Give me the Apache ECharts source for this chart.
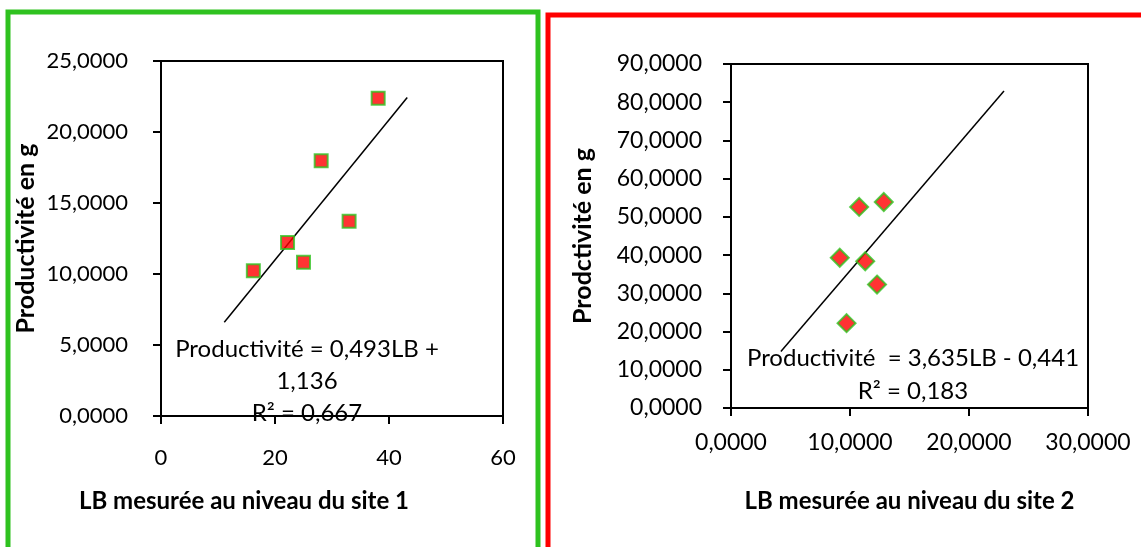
<!DOCTYPE html>
<html>
<head>
<meta charset="utf-8">
<script src="https://cdn.jsdelivr.net/npm/echarts@6/dist/echarts.min.js"></script>
<style>
html,body{margin:0;padding:0;background:#fff;}
#c{width:1141px;height:547px;}
</style>
</head>
<body>
<div id="c"></div>
<script>
// ---- data ----
const site1LB   = [16.2, 22.2, 25.0, 28.1, 33.0, 38.1];
const site1Prod = [10.23, 12.22, 10.82, 17.97, 13.71, 22.38];
const site2LB   = [9.14, 9.71, 10.77, 11.28, 12.27, 12.84];
const site2Prod = [39.3, 22.2, 52.6, 38.4, 32.3, 53.9];
// regression lines (as printed on the chart) and their drawn x-range
const trend1 = {slope: 0.493, intercept: 1.136, xRange: [11.1, 43.2]};
const trend2 = {slope: 3.635, intercept: -0.441, xRange: [4.19, 22.94]};
const eq1Lines = ['Productivité = 0,493LB +', '1,136', 'R² = 0,667'];
const eq2Lines = ['Productivité  = 3,635LB - 0,441', 'R² = 0,183'];
const x1Ticks = {min: 0, max: 60, interval: 20};
const y1Ticks = {min: 0, max: 25, interval: 5};
const x2Ticks = {min: 0, max: 30, interval: 10};
const y2Ticks = {min: 0, max: 90, interval: 10};

const FONT = 'Lato, "Liberation Sans", sans-serif';
const fmt4 = v => v.toFixed(4).replace('.', ',');
const zip = (a, b) => a.map((v, i) => [v, b[i]]);
const trendPts = t => t.xRange.map(x => [x, t.slope * x + t.intercept]);

const chart = echarts.init(document.getElementById('c'), null, {renderer: 'canvas'});

function xAxis(idx, t, labelFmt, name, fs, margin, gap, pad) {
  return {
    type: 'value', gridIndex: idx, min: t.min, max: t.max, interval: t.interval,
    splitLine: {show: false},
    axisLine: {show: true, onZero: false, lineStyle: {color: '#000', width: 2}},
    axisTick: {show: true, length: 8, lineStyle: {color: '#000', width: 2}},
    axisLabel: {color: '#000', fontFamily: FONT, fontSize: fs, margin: margin, formatter: labelFmt},
    name: name, nameLocation: 'middle', nameGap: gap,
    nameTextStyle: {color: '#000', fontFamily: FONT, fontWeight: 'bold', fontSize: 24, padding: pad}
  };
}
function yAxis(idx, t, name, fs, margin, gap) {
  return {
    type: 'value', gridIndex: idx, min: t.min, max: t.max, interval: t.interval,
    splitLine: {show: false},
    axisLine: {show: true, onZero: false, lineStyle: {color: '#000', width: 2}},
    axisTick: {show: true, length: 8, lineStyle: {color: '#000', width: 2}},
    axisLabel: {color: '#000', fontFamily: FONT, fontSize: fs, margin: margin, formatter: fmt4},
    name: name, nameLocation: 'middle', nameGap: gap, nameRotate: 90,
    nameTextStyle: {color: '#000', fontFamily: FONT, fontWeight: 'bold', fontSize: 25}
  };
}

const eqStyle = {fill: '#000', font: '24px ' + FONT, textAlign: 'center', textVerticalAlign: 'middle'};

chart.setOption({
  backgroundColor: '#fff',
  animation: false,
  grid: [
    {left: 161, top: 61, width: 342, height: 355, show: true, borderColor: '#000', borderWidth: 2, backgroundColor: 'transparent'},
    {left: 731, top: 64, width: 357, height: 344, show: true, borderColor: '#000', borderWidth: 2, backgroundColor: 'transparent'}
  ],
  xAxis: [
    xAxis(0, x1Ticks, v => String(v), 'LB mesurée au niveau du site 1', 22, 31, 73, [0, 176, 0, 0]),
    xAxis(1, x2Ticks, fmt4, 'LB mesurée au niveau du site 2', 23, 23, 81, [0, 0, 0, 0])
  ],
  yAxis: [
    yAxis(0, y1Ticks, 'Productivité en g', 22, 33, 123),
    yAxis(1, y2Ticks, 'Prodctivité en g', 23, 29, 136)
  ],
  series: [
    {type: 'line', xAxisIndex: 0, yAxisIndex: 0, data: trendPts(trend1), showSymbol: false,
     lineStyle: {color: '#000', width: 1.5}, z: 2, silent: true},
    {type: 'scatter', xAxisIndex: 0, yAxisIndex: 0, data: zip(site1LB, site1Prod),
     symbol: 'rect', symbolSize: 13, itemStyle: {color: '#ff0000', borderColor: '#2fc21f', borderWidth: 2}, z: 3},
    {type: 'line', xAxisIndex: 1, yAxisIndex: 1, data: trendPts(trend2), showSymbol: false,
     lineStyle: {color: '#000', width: 1.5}, z: 2, silent: true},
    {type: 'scatter', xAxisIndex: 1, yAxisIndex: 1, data: zip(site2LB, site2Prod),
     symbol: 'diamond', symbolSize: 18, itemStyle: {color: '#ff0000', borderColor: '#2fc21f', borderWidth: 2}, z: 3}
  ],
  graphic: [
    {type: 'rect', shape: {x: 8, y: 12, width: 530, height: 620}, style: {fill: 'none', stroke: '#2fc21f', lineWidth: 5}, z: -10},
    {type: 'rect', shape: {x: 548, y: 15, width: 640, height: 620}, style: {fill: 'none', stroke: '#ff0000', lineWidth: 5}, z: -10},
    {type: 'text', x: 307, y: 349, style: Object.assign({text: eq1Lines[0]}, eqStyle), z: -5},
    {type: 'text', x: 307, y: 381, style: Object.assign({text: eq1Lines[1]}, eqStyle), z: -5},
    {type: 'text', x: 307, y: 413, style: Object.assign({text: eq1Lines[2]}, eqStyle), z: -5},
    {type: 'text', x: 913, y: 358, style: Object.assign({text: eq2Lines[0]}, eqStyle), z: -5},
    {type: 'text', x: 913, y: 391, style: Object.assign({text: eq2Lines[1]}, eqStyle), z: -5}
  ]
});
</script>
</body>
</html>
